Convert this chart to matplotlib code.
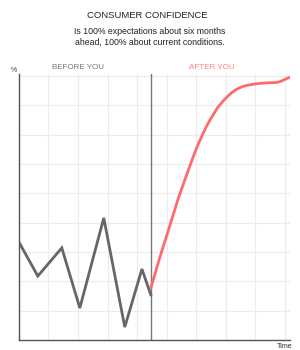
import matplotlib
matplotlib.use("Agg")
import matplotlib.pyplot as plt

plt.rcParams['font.family'] = ['Liberation Sans', 'DejaVu Sans']

# time positions and values
before_x = [0.0, 0.64, 1.45, 2.06, 2.87, 3.58, 4.16, 4.46]
before_y = [3.34, 2.18, 3.14, 1.09, 4.16, 0.44, 2.42, 1.54]

after_x = [4.46, 4.76, 5.11, 5.37, 5.61, 5.88, 6.03, 6.19, 6.32, 6.46, 6.60, 6.73, 6.88, 7.03,
           7.19, 7.36, 7.53, 7.70, 7.92, 8.15, 8.43, 8.71, 8.83, 8.94, 9.05, 9.16]
after_y = [1.77, 2.80, 3.92, 4.77, 5.46, 6.21, 6.60, 6.96, 7.24, 7.50, 7.73, 7.94, 8.12, 8.28,
           8.43, 8.55, 8.63, 8.68, 8.72, 8.75, 8.77, 8.78, 8.81, 8.86, 8.91, 8.96]

now_x = 4.46

fig = plt.figure(figsize=(3.0, 3.5), dpi=100)
ax = fig.add_axes([0.063, 0.0286, 0.904, 0.76])

ax.set_xlim(0, 9.17)
ax.set_ylim(0, 9.07)
ax.set_xticks(range(0, 10))
ax.set_yticks(range(0, 10))
ax.grid(True, color='#ececec', linewidth=0.8)
ax.tick_params(length=0, labelbottom=False, labelleft=False)
for side in ['top', 'right']:
    ax.spines[side].set_visible(False)
for side in ['left', 'bottom']:
    ax.spines[side].set_color('#555555')
    ax.spines[side].set_linewidth(1.0)

ax.axvline(now_x, color='#777777', linewidth=1.0)
ax.plot(before_x, before_y, color='#666666', linewidth=2.0, solid_joinstyle='miter')
ax.plot(after_x, after_y, color='#ff6b6b', linewidth=2.0,
        solid_capstyle='round', solid_joinstyle='round')

fig.text(0.49, 0.955, 'CONSUMER CONFIDENCE', ha='center', va='center', fontsize=6.8, color='#222222')
fig.text(0.5, 0.895, 'Is 100% expectations about six months\nahead, 100% about current conditions.',
         ha='center', va='center', fontsize=6.3, color='#222222', linespacing=1.25)
fig.text(0.047, 0.8, '%', ha='center', va='center', fontsize=5, color='#444444')
fig.text(0.26, 0.808, 'BEFORE YOU', ha='center', va='center', fontsize=5.8, color='#777777')
fig.text(0.707, 0.806, 'AFTER YOU', ha='center', va='center', fontsize=5.8, color='#ff8080')
fig.text(0.948, 0.011, 'Time', ha='center', va='center', fontsize=5.2, color='#333333')

fig.savefig('out.png', dpi=100)
